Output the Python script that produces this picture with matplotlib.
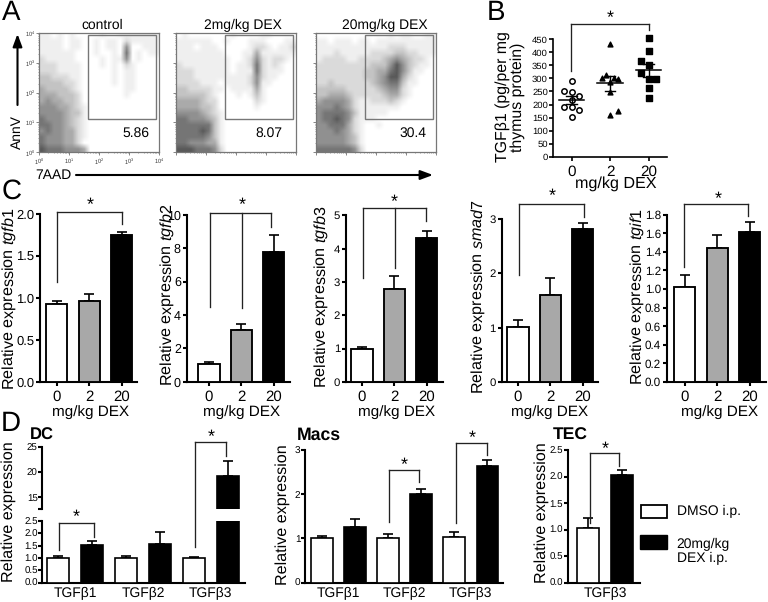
import numpy as np
import matplotlib
matplotlib.use("Agg")
import matplotlib.pyplot as plt
from matplotlib.patches import Rectangle

plt.rcParams["font.family"] = ["Liberation Sans", "DejaVu Sans"]
plt.rcParams["mathtext.fontset"] = "custom"
plt.rcParams["mathtext.rm"] = "Liberation Sans"
plt.rcParams["mathtext.it"] = "Liberation Sans:italic"
plt.rcParams["text.hinting"] = "no_hinting"

W, H = 768, 602

# ---- Panel A: event density (0 empty .. 9 darkest), top row first
density_control = [
    "11010100001001111111", "11110110010110211111", "11110110010110500111", "11111100010010601011",
    "21111100001011501000", "22211110001010210000", "22211110000010110000", "33222110000010110000",
    "33332210000010110000", "43333210000000110000", "44433320000000100000", "45443320000000000000",
    "55544321000000000000", "55554331000000000000", "65554321000000000000", "66554321000000000000",
    "56554421000000000000", "65554421000000000000", "65554420000000000000", "76665554000000000000",
]
density_2mg = [
    "01000000010000110000", "11111100100011100011", "11101110000012210112", "11111111000114111111",
    "11111111100125212210", "21111111101126212100", "22211111101116211100", "22211111111125211000",
    "22221110111125110000", "33222211011114100000", "33333210001013100000", "44443220000002100000",
    "44443320000001000000", "55554321000000000000", "66555431000000000000", "66666631000000000000",
    "66667631000000000000", "66666531000000000000", "66555441000000000000", "77766652000000000000",
]
density_20mg = [
    "00000000000010110011", "11011101101111111111", "11111111111122211111", "11121111122223322111",
    "12222112222345432210", "22222222233357532110", "22222222334467531100", "22222222334577421000",
    "22322222234566311000", "33333222223455210000", "33444322222344210000", "45555421122232100000",
    "55565421111111000000", "56666531111100000000", "56676521110000000000", "55666421001000000000",
    "55565421000000000000", "55555431000000000000", "55555431000000000000", "66666652000000000000",
]
flow_titles = ["control", "2mg/kg DEX", "20mg/kg DEX"]
flow_percent = ["5.86", "8.07", "30.4"]
flow_grids = [density_control, density_2mg, density_20mg]
decade_labels = ["$10^{0}$", "$10^{1}$", "$10^{2}$", "$10^{3}$", "$10^{4}$"]

# ---- Panel B
dose_labels = ["0", "2", "20"]
tgfb1_0_off = [0, -0.2, 0, 0.2, 0, -0.2, 0, 0.2, 0]
tgfb1_0_val = [291, 253, 248, 231, 217, 192, 192, 179, 152]
tgfb1_2_off = [0, -0.1, -0.2, 0.1, 0.2, 0, 0, 0.2, 0]
tgfb1_2_val = [431, 312, 300, 300, 296, 285, 249, 176, 160]
tgfb1_20_off = [0, 0, -0.2, 0, -0.2, 0, 0.2, 0, 0]
tgfb1_20_val = [454, 405, 368, 350, 320, 298, 298, 263, 224]
tgfb1_mean = [218, 283, 332]
tgfb1_sem_low = [203, 253, 307]
tgfb1_sem_high = [233, 310, 356]

# ---- Panel C
tgfb1_vals = [0.93, 0.965, 1.75]
tgfb1_top = [0.96, 1.05, 1.785]
tgfb2_vals = [1.04, 3.09, 7.78]
tgfb2_top = [1.2, 3.47, 8.76]
tgfb3_vals = [1.0, 2.79, 4.32]
tgfb3_top = [1.06, 3.19, 4.53]
smad7_vals = [1.02, 1.6, 2.82]
smad7_top = [1.146, 1.92, 2.93]
tgif1_vals = [1.017, 1.44, 1.61]
tgif1_top = [1.15, 1.585, 1.717]
dose_colors = ["white", "#a8a8a8", "black"]

# ---- Panel D
group_labels = ["TGFβ1", "TGFβ2", "TGFβ3"]
dc_vals = [1.01, 1.54, 1.01, 1.57, 1.01, 19.2]
dc_top = [1.09, 1.69, 1.09, 2.04, 1.05, 22.1]
macs_vals = [1.017, 1.26, 1.017, 2.0, 1.03, 2.645]
macs_top = [1.06, 1.43, 1.1, 2.125, 1.145, 2.77]
tec_vals = [1.024, 2.03]
tec_top = [1.22, 2.12]
pair_colors = ["white", "black"]
legend_labels = ["DMSO i.p.", "20mg/kg\nDEX i.p."]

fig = plt.figure(figsize=(W / 100, H / 100), dpi=100, facecolor="white")


def axpx(l, t, r, b):
    a = fig.add_axes([l / W, 1 - b / H, (r - l) / W, (b - t) / H])
    a.patch.set_alpha(0)
    return a


def ftext(x, y, s, size=10, **kw):
    kw.setdefault("ha", "center")
    kw.setdefault("va", "center")
    return fig.text(x / W, 1 - y / H, s, fontsize=size, **kw)


def style(a, lw=1.5, ticksize=9, tl=3.2, pad=1):
    for s in ("top", "right"):
        a.spines[s].set_visible(False)
    for s in ("left", "bottom"):
        a.spines[s].set_linewidth(lw)
    a.tick_params(axis="y", width=lw, length=tl, labelsize=ticksize, pad=pad)


def bracket(a, xs, top, drops, star_x, star_y, lw=0.95, color="#222222"):
    a.plot([xs[0], xs[-1]], [top, top], color=color, lw=lw, clip_on=False, zorder=6, solid_capstyle="projecting")
    for x, d in zip(xs, drops):
        a.plot([x, x], [d, top], color=color, lw=lw, clip_on=False, zorder=6)
    a.text(star_x, star_y, "*", ha="center", va="center", fontsize=13, clip_on=False)


def bars(a, xs, vals, tops, colors, width=0.65, lw=1.35, cap=3.6):
    up = np.array(tops) - np.array(vals)
    a.bar(xs, vals, width=width, color=colors, edgecolor="black", linewidth=lw, zorder=3,
          yerr=[np.zeros(len(xs)), up], error_kw=dict(ecolor="black", elinewidth=1.2, capsize=cap, capthick=1.2, zorder=2))


# ---- A
flow_lefts = [39.3, 176, 316]
cmap = plt.get_cmap("gray_r")
minor = np.concatenate([np.log10(np.arange(2, 10)) + d for d in range(4)])
for i, (left, grid) in enumerate(zip(flow_lefts, flow_grids)):
    a = axpx(left, 33, left + 120, 152.3)
    arr = (np.array([[int(c) for c in row] for row in grid], dtype=float) / 10) ** 1.2
    a.imshow(arr, extent=(0, 4, 0, 4), origin="upper", cmap=cmap, vmin=0, vmax=1, aspect="auto", interpolation="bilinear")
    a.add_patch(Rectangle((1.63, 1.1), 2.27, 2.83, fill=False, ec="#777777", lw=1.0, zorder=4))
    for s in a.spines.values():
        s.set_color("#777777")
        s.set_linewidth(0.9)
    a.set_xticks(range(5))
    a.set_yticks(range(5))
    a.set_xticks(minor, minor=True)
    a.set_yticks(minor, minor=True)
    if i == 0:
        a.set_xticklabels(decade_labels)
        a.set_yticklabels(decade_labels)
    else:
        a.set_xticklabels([])
        a.set_yticklabels([])
    a.tick_params(which="major", length=2, width=0.5, labelsize=4, pad=1, color="#555555", labelcolor="#333333")
    a.tick_params(which="minor", length=1, width=0.4, color="#555555")
    a.set_xlim(0, 4)
    a.set_ylim(0, 4)
    ftext([102, 243, 385][i], 25, flow_titles[i], 10)
    ftext([136, 269, 413][i], 133.3, flow_percent[i], 10)

ftext(17, 132, "AnnV", 10, rotation=90)
ftext(53.5, 175, "7AAD", 10)
overlay = fig.add_axes([0, 0, 1, 1])
overlay.set_xlim(0, W)
overlay.set_ylim(H, 0)
overlay.axis("off")
overlay.patch.set_alpha(0)
arrow = dict(arrowstyle="-|>,head_width=0.28,head_length=0.75", color="black", lw=1.5, shrinkA=0, shrinkB=0)
overlay.annotate("", xy=(17.5, 34), xytext=(17.5, 105), arrowprops=arrow)
overlay.annotate("", xy=(433, 175), xytext=(76, 175), arrowprops=arrow)

# ---- panel letters
for s, x, y in [("A", 11, 12.5), ("B", 496, 13), ("C", 11.5, 191), ("D", 11, 424)]:
    ftext(x, y, s, 20)

# ---- B
b = axpx(552.7, 39.3, 667, 156.7)
style(b, lw=1.2, ticksize=6.8, tl=2.6, pad=0.8)
b.set_xlim(-0.49, 2.48)
b.set_ylim(0, 450)
b.set_yticks(range(0, 451, 50))
b.set_xticks(range(3))
b.set_xticklabels(dose_labels)
b.tick_params(axis="x", width=1.2, length=3, labelsize=11, pad=3)
b.scatter(np.array(tgfb1_0_off), tgfb1_0_val, marker="o", s=15, facecolor="white", edgecolor="black", linewidth=1.1, clip_on=False, zorder=3)
b.scatter(1 + np.array(tgfb1_2_off), tgfb1_2_val, marker="^", s=12, color="black", clip_on=False, zorder=3)
b.scatter(2 + np.array(tgfb1_20_off), tgfb1_20_val, marker="s", s=15, color="black", clip_on=False, zorder=3)
for i in range(3):
    b.plot([i - 0.33, i + 0.33], [tgfb1_mean[i]] * 2, color="black", lw=1.1, zorder=4)
    b.plot([i, i], [tgfb1_sem_low[i], tgfb1_sem_high[i]], color="black", lw=1.0, zorder=4)
    for v in (tgfb1_sem_low[i], tgfb1_sem_high[i]):
        b.plot([i - 0.14, i + 0.14], [v, v], color="black", lw=1.0, zorder=4)
bracket(b, [-0.02, 2.0], 507, [328, 486], 1.0, 530)
ftext(510, 97, "TGFβ1 (pg/per mg\nthymus protein)", 11.4, rotation=90, linespacing=1.0)
ftext(615.5, 184, "mg/kg DEX", 11.6)

# ---- C
c_panels = [
    dict(l=40, r=137, t=214.3, c0=56.7, ymax=2.0, ticks=[0, .5, 1, 1.5, 2], fmt="%.1f", v=tgfb1_vals, e=tgfb1_top, ts=9.4,
         br=([0, 2], 2.03, [1.19, 1.89]), star=(1.02, 2.11), gene="tgfb1", lx=9.5, ly=299, xl=91),
    dict(l=186.7, r=290, t=214.7, c0=209, ymax=10, ticks=[0, 2, 4, 6, 8, 10], fmt="%d", v=tgfb2_vals, e=tgfb2_top, ts=9.0,
         br=([0.03, 1.03, 1.92], 10.12, [4.49, 4.43, 9.28]), star=(1.03, 10.55), gene="tgfb2", lx=167.7, ly=295, xl=242),
    dict(l=346, r=442.7, t=215.3, c0=362, ymax=5, ticks=[0, 1, 2, 3, 4, 5], fmt="%d", v=tgfb3_vals, e=tgfb3_top, ts=8.2,
         br=([0.03, 1.02, 1.98], 5.21, [3.12, 3.43, 4.84]), star=(1.0, 5.4), gene="tgfb3", lx=321.7, ly=297, xl=397),
    dict(l=501.7, r=597.7, t=219.3, c0=518, ymax=3, ticks=[0, 1, 2, 3], fmt="%d", v=smad7_vals, e=smad7_top, ts=8.2,
         br=([0.02, 2.03], 3.28, [1.98, 3.05]), star=(1.07, 3.42), gene="smad7", lx=479, ly=296.7, xl=550),
    dict(l=666.7, r=766, t=214.7, c0=684.7, ymax=1.8, ticks=[0, .2, .4, .6, .8, 1, 1.2, 1.4, 1.6, 1.8], fmt="%.1f", v=tgif1_vals, e=tgif1_top, ts=8.4,
         br=([-0.03, 1.94], 1.91, [1.24, 1.79]), star=(1.03, 1.97), gene="tgif1", lx=637.3, ly=296.7, xl=720),
]
for p in c_panels:
    a = axpx(p["l"], p["t"], p["r"], 381.8)
    style(a, ticksize=p["ts"])
    bars(a, [0, 1, 2], p["v"], p["e"], dose_colors)
    a.set_xlim((p["l"] - p["c0"]) / 32.4, (p["r"] - p["c0"]) / 32.4)
    a.set_ylim(0, p["ymax"])
    a.set_yticks(p["ticks"])
    a.set_yticklabels([p["fmt"] % v for v in p["ticks"]])
    a.set_xticks([0, 1, 2])
    a.set_xticklabels(dose_labels)
    a.tick_params(axis="x", width=1.5, length=3.2, labelsize=10.8, pad=2.5)
    bracket(a, p["br"][0], p["br"][1], p["br"][2], p["star"][0], p["star"][1])
    ftext(p["lx"], p["ly"], r"Relative expression $\mathit{%s}$" % p["gene"], 11.6, rotation=90)
    ftext(p["xl"], 411.7, "mg/kg DEX", 11)

# ---- D: DC with broken axis
xs6 = list(range(6))
dc_colors = pair_colors * 3
dc_lo = axpx(42.3, 521, 245, 582.7)
dc_hi = axpx(42.3, 447, 245, 509.3)
for a, ylim, ticks, labs in [(dc_lo, (0, 2.5), [0, .5, 1, 1.5, 2, 2.5], ["0.0", "0.5", "1.0", "1.5", "2.0", "2.5"]),
                             (dc_hi, (12.5, 25), [12.5, 15, 20, 25], ["", "15", "20", "25"])]:
    style(a, ticksize=7, tl=2.6, pad=0.6)
    bars(a, xs6, dc_vals, dc_top, dc_colors, width=0.66, lw=1.2, cap=3.4)
    a.set_xlim((42.3 - 58.3) / 33.9, (245 - 58.3) / 33.9)
    a.set_ylim(*ylim)
    a.set_yticks(ticks)
    a.set_yticklabels(labs)
dc_hi.spines["bottom"].set_visible(False)
dc_hi.set_xticks([])
dc_lo.set_xticks([0.5, 2.5, 4.5])
dc_lo.set_xticklabels(group_labels)
dc_lo.tick_params(axis="x", length=0, labelsize=10, pad=3)
bracket(dc_lo, [0.02, 1.05], 2.43, [1.32, 1.865], 0.53, 2.66)
bracket(dc_lo, [4.02, 4.96], 5.69, [1.43, 5.14], 4.5, 5.9)
ftext(30, 435, "DC", 12, fontweight="bold", ha="left")
ftext(8.5, 512, "Relative expression", 11.6, rotation=90)

# ---- D: Macs
m = axpx(305, 450, 503.3, 582.7)
style(m, ticksize=7.2, tl=2.6, pad=0.6)
bars(m, xs6, macs_vals, macs_top, dc_colors, width=0.66, lw=1.2, cap=3.4)
m.set_xlim((305 - 321.7) / 33.15, (503.3 - 321.7) / 33.15)
m.set_ylim(0, 3)
m.set_yticks([0, 1, 2, 3])
m.set_xticks([0.5, 2.5, 4.5])
m.set_xticklabels(group_labels)
m.tick_params(axis="x", length=0, labelsize=10, pad=3)
bracket(m, [2.03, 2.95], 2.555, [1.364, 2.27], 2.5, 2.66)
bracket(m, [4.06, 4.98], 3.157, [1.356, 2.886], 4.55, 3.27)
ftext(297, 435, "Macs", 12.7, fontweight="bold", ha="left")
ftext(282.7, 515, "Relative expression", 11.6, rotation=90)

# ---- D: TEC
t = axpx(567.7, 450, 640, 582.7)
style(t, ticksize=7, tl=2.6, pad=0.6)
bars(t, [0, 1], tec_vals, tec_top, pair_colors, width=0.66, lw=1.2, cap=3.4)
t.set_xlim((567.7 - 588.3) / 33.3, (640 - 588.3) / 33.3)
t.set_ylim(0, 2.5)
t.set_yticks([0, .5, 1, 1.5, 2, 2.5])
t.set_yticklabels(["0.0", "0.5", "1.0", "1.5", "2.0", "2.5"])
t.set_xticks([0.5])
t.set_xticklabels(group_labels[2:])
t.tick_params(axis="x", length=0, labelsize=10, pad=3)
bracket(t, [0.04, 0.92], 2.443, [1.13, 2.205], 0.5, 2.52)
ftext(553, 435, "TEC", 12.6, fontweight="bold", ha="left")
ftext(541.7, 513, "Relative expression", 11.6, rotation=90)

# ---- legend
overlay.add_patch(Rectangle((640.5, 505), 26.5, 13.3, fc=pair_colors[0], ec="black", lw=1.3))
overlay.add_patch(Rectangle((640, 535), 27, 14, fc=pair_colors[1], ec="black", lw=1.0))
ftext(676.7, 511.7, legend_labels[0], 10, ha="left")
ftext(676.7, 551.5, legend_labels[1], 10, ha="left", linespacing=1.15)

fig.savefig("out.png", dpi=100)
